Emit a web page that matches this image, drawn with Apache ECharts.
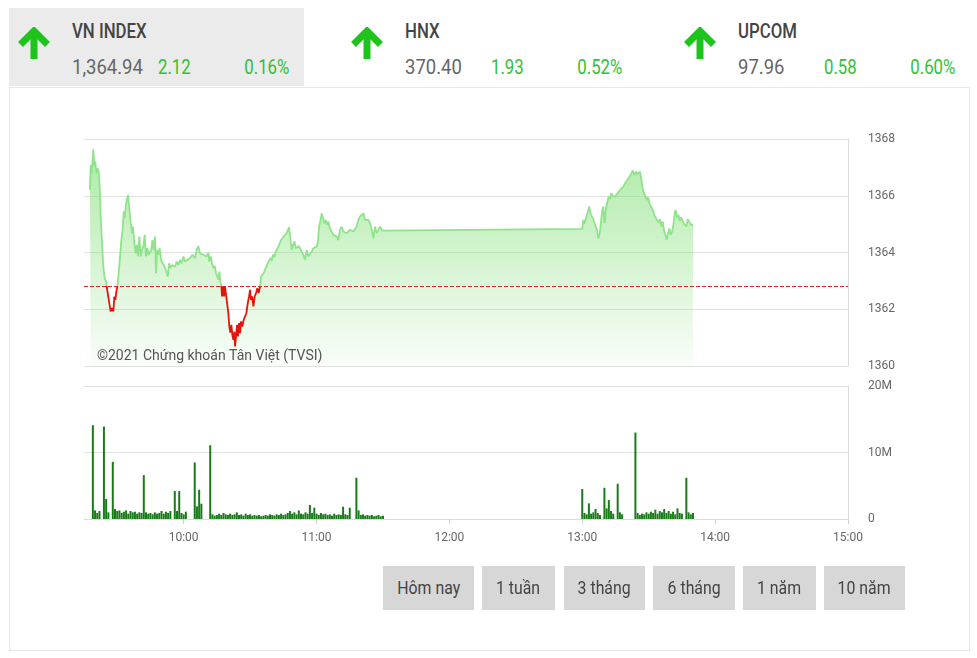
<!DOCTYPE html>
<html>
<head>
<meta charset="utf-8">
<script src="https://cdn.jsdelivr.net/npm/echarts@6/dist/echarts.min.js"></script>
<style>
html,body{margin:0;padding:0;background:#fff;width:977px;height:658px;overflow:hidden;font-family:Roboto,"Noto Sans",sans-serif;}
.abs{position:absolute;}
.cond{display:inline-block;white-space:nowrap;transform:scaleX(0.8);transform-origin:left top;}
.condR{display:inline-block;white-space:nowrap;transform:scaleX(0.8);transform-origin:right top;}
.btn{position:absolute;background:#d7d7d7;color:#444;font-size:18px;text-align:center;line-height:44px;height:44px;top:566px;}
</style>
</head>
<body>
<div class="abs" style="left:9px;top:8px;width:295px;height:78px;background:#ebebeb;"></div>
<div class="abs" style="left:9px;top:87px;width:961px;height:564px;border:1px solid #e6e6e6;box-sizing:border-box;"></div>
<div id="header"></div>
<div id="chart" class="abs" style="left:0;top:0;width:977px;height:658px;"></div>
<div id="buttons"></div>
<script>
// ---------- data ----------
const indexNames = ["VN INDEX", "HNX", "UPCOM"];
const indexValues = ["1,364.94", "370.40", "97.96"];
const indexChanges = ["2.12", "1.93", "0.58"];
const indexPercents = ["0.16%", "0.52%", "0.60%"];
const rangeButtons = ["Hôm nay", "1 tuần", "3 tháng", "6 tháng", "1 năm", "10 năm"];
const watermark = "©2021 Chứng khoán Tân Việt (TVSI)";
const refPrice = 1362.82;
const priceTicks = [1360, 1362, 1364, 1366, 1368];
const volumeTicks = [0, 10, 20];
const volumeTickLabels = ["0", "10M", "20M"];
const timeTickLabels = ["10:00", "11:00", "12:00", "13:00", "14:00", "15:00"];
const sessionStart = "09:15";
const sessionEnd = "15:00";

const priceData = [
["09:17:43",1366.20],["09:18:01",1367.08],["09:18:28",1366.79],["09:18:55",1367.32],["09:19:13",1367.64],["09:19:40",1367.03],["09:20:07",1367.20],["09:20:34",1366.79],["09:21:01",1366.97],["09:21:38",1366.85],["09:22:05",1366.32],["09:22:32",1365.27],["09:23:08",1364.33],["09:23:44",1363.50],["09:24:20",1363.09],["09:24:56",1362.98],["09:25:23",1362.74],["09:25:50",1362.51],["09:26:27",1362.21],["09:27:03",1361.92],["09:27:39",1362.04],["09:28:15",1361.92],["09:28:42",1362.45],["09:29:10",1362.33],["09:29:37",1362.63],["09:30:04",1362.80],["09:30:40",1363.27],["09:31:16",1363.86],["09:31:52",1364.44],["09:32:28",1364.80],["09:32:55",1365.44],["09:33:22",1365.21],["09:33:50",1365.62],["09:34:17",1365.85],["09:34:53",1366.03],["09:35:20",1366.09],["09:35:47",1365.27],["09:36:14",1364.97],["09:36:41",1364.68],["09:37:08",1364.91],["09:37:44",1364.33],["09:38:20",1363.97],["09:38:48",1364.27],["09:39:24",1363.86],["09:40:00",1364.56],["09:40:36",1363.86],["09:41:12",1364.09],["09:41:49",1364.21],["09:42:25",1364.62],["09:43:01",1363.86],["09:43:37",1364.15],["09:44:13",1363.92],["09:44:49",1363.86],["09:45:25",1364.09],["09:45:52",1364.44],["09:46:29",1364.09],["09:47:05",1364.56],["09:47:32",1363.27],["09:47:59",1364.09],["09:48:35",1363.92],["09:49:11",1364.15],["09:49:47",1363.74],["09:50:23",1363.80],["09:50:59",1363.56],["09:51:36",1363.45],["09:52:12",1363.33],["09:52:48",1363.15],["09:53:24",1363.62],["09:54:01",1363.45],["09:54:37",1363.56],["09:55:22",1363.62],["09:56:07",1363.50],["09:56:52",1363.68],["09:57:37",1363.56],["09:58:22",1363.74],["09:59:08",1363.62],["09:59:53",1363.86],["10:00:38",1363.68],["10:01:41",1363.74],["10:02:53",1363.80],["10:03:57",1363.92],
["10:04:23",1363.97],["10:05:08",1363.80],["10:05:53",1364.09],["10:06:38",1364.23],["10:07:23",1363.97],["10:08:08",1363.92],["10:08:53",1363.92],["10:09:39",1363.86],["10:10:24",1363.86],["10:11:09",1364.00],["10:11:36",1363.68],["10:12:13",1363.86],["10:12:49",1363.62],["10:13:25",1363.45],["10:14:01",1363.53],["10:14:37",1363.27],["10:15:13",1363.15],["10:15:40",1363.04],["10:16:07",1363.33],["10:16:34",1362.98],["10:17:02",1362.80],["10:17:20",1362.45],["10:17:47",1362.80],["10:18:14",1362.45],["10:18:41",1362.80],["10:19:26",1362.80],["10:20:11",1361.86],["10:20:38",1361.39],["10:21:05",1361.18],["10:21:32",1361.45],["10:22:00",1361.10],["10:22:27",1360.92],["10:22:54",1361.21],["10:23:12",1360.69],["10:23:39",1361.04],["10:24:07",1361.45],["10:24:34",1361.04],["10:25:01",1361.51],["10:25:28",1361.16],["10:25:55",1361.57],["10:26:31",1361.39],["10:27:07",1361.63],["10:27:43",1361.57],["10:28:19",1361.86],["10:28:56",1362.21],["10:29:32",1362.45],["10:29:59",1362.68],["10:30:26",1362.33],["10:30:53",1362.45],["10:31:29",1362.10],["10:32:05",1362.45],["10:32:41",1362.57],["10:33:17",1362.74],["10:33:53",1362.57],["10:34:30",1362.80],["10:34:57",1363.15],["10:35:33",1363.21],["10:36:09",1363.27],["10:36:46",1363.33],["10:37:22",1363.50],["10:37:58",1363.62],["10:38:34",1363.56],["10:39:10",1363.80],["10:39:46",1363.72],["10:40:22",1363.92],["10:40:58",1363.83],["10:41:35",1364.03],["10:42:11",1363.97],["10:42:47",1364.21],["10:43:23",1364.19],["10:43:59",1364.44],["10:44:35",1364.39],["10:45:11",1364.56],["10:45:47",1364.54],["10:46:23",1364.68],["10:47:00",1364.77],["10:47:36",1364.89],["10:48:12",1364.89],["10:48:48",1364.09],["10:49:25",1364.27],["10:50:01",1364.39],["10:50:37",1364.15],["10:51:13",1364.09],["10:51:58",1364.23],
["10:52:32",1364.15],["10:53:17",1364.03],["10:54:02",1363.92],["10:54:48",1363.74],["10:55:33",1364.09],["10:56:18",1363.86],["10:57:04",1363.92],["10:57:49",1364.03],["10:58:34",1364.15],["10:59:19",1364.09],["11:00:04",1364.21],["11:00:40",1364.39],["11:01:07",1364.91],["11:01:43",1365.09],["11:02:20",1365.38],["11:02:56",1365.44],["11:03:32",1365.03],["11:04:08",1365.15],["11:04:44",1364.97],["11:05:20",1365.09],["11:06:05",1364.85],["11:06:51",1364.80],["11:07:36",1364.62],["11:08:21",1364.68],["11:09:07",1364.56],["11:09:52",1364.44],["11:10:37",1364.80],["11:11:22",1364.91],["11:12:07",1364.74],["11:12:52",1364.80],["11:13:37",1364.68],["11:14:23",1364.74],["11:15:08",1364.80],["11:15:53",1364.85],["11:16:38",1364.74],["11:17:23",1364.80],["11:18:08",1364.91],["11:18:53",1365.15],["11:19:39",1365.27],["11:20:24",1365.21],["11:21:09",1365.38],["11:21:55",1365.15],["11:22:40",1365.09],["11:23:25",1365.15],["11:24:10",1365.03],["11:24:55",1364.80],["11:25:40",1364.50],["11:26:25",1364.91],["11:27:11",1364.68],["11:27:56",1364.80],["11:28:41",1364.91],["11:29:08",1364.85],["11:29:44",1364.77],
["13:00:02",1364.83],["13:00:29",1365.15],["13:00:56",1365.01],["13:01:32",1365.17],["13:02:08",1365.24],["13:02:44",1365.50],["13:03:12",1365.62],["13:03:39",1365.38],["13:04:15",1365.44],["13:04:51",1365.21],["13:05:28",1365.15],["13:06:04",1364.91],["13:06:40",1364.80],["13:07:16",1364.50],["13:07:52",1364.66],["13:08:28",1365.09],["13:09:04",1365.50],["13:09:31",1365.62],["13:10:07",1365.03],["13:10:44",1365.56],["13:11:20",1365.79],["13:11:56",1365.97],["13:12:32",1365.88],["13:13:08",1366.09],["13:13:44",1365.99],["13:14:20",1366.03],["13:14:56",1365.97],["13:15:33",1365.95],["13:16:09",1366.11],["13:16:45",1366.18],["13:17:21",1366.23],["13:17:58",1366.26],["13:18:34",1366.32],["13:19:10",1366.42],["13:19:46",1366.46],["13:20:22",1366.56],["13:20:58",1366.62],["13:21:34",1366.70],["13:22:10",1366.79],["13:22:46",1366.89],["13:23:14",1366.91],["13:23:41",1366.73],["13:24:17",1366.85],["13:24:53",1366.77],["13:25:29",1366.81],["13:26:05",1366.85],["13:26:41",1366.58],["13:27:17",1366.26],["13:27:53",1366.09],["13:28:30",1366.15],["13:29:06",1365.85],["13:29:42",1365.95],["13:30:18",1365.74],["13:30:55",1365.64],["13:31:31",1365.56],["13:32:07",1365.44],["13:32:43",1365.29],["13:33:19",1365.21],["13:33:55",1365.15],["13:34:31",1365.05],["13:35:07",1365.17],["13:35:44",1364.91],["13:36:20",1365.09],["13:36:56",1364.77],["13:37:32",1364.62],["13:38:08",1364.44],["13:38:44",1364.66],["13:39:20",1364.85],["13:39:56",1364.62],["13:40:33",1364.74],["13:41:09",1364.97],["13:41:45",1365.38],["13:42:12",1365.50],["13:42:48",1365.24],["13:43:25",1365.32],["13:44:01",1365.12],["13:44:37",1365.24],["13:45:13",1365.17],["13:45:49",1365.03],["13:46:25",1364.97],["13:47:01",1364.91],["13:47:37",1365.17],["13:48:14",1365.12],["13:48:50",1365.01],["13:49:26",1364.97],["13:50:02",1364.94]
];

const volumeData = [
["09:19",14.1],["09:20",1.3],["09:21",0.9],["09:22",1.2],["09:24",13.9],["09:25",3.0],["09:26",1.0],["09:28",8.6],["09:29",1.5],["09:30",1.2],["09:31",1.3],["09:32",0.9],["09:33",1.1],["09:34",1.3],["09:35",0.8],["09:36",1.2],["09:37",1.0],["09:38",1.1],["09:39",0.8],["09:40",1.0],["09:41",0.9],["09:42",6.6],["09:43",1.0],["09:44",0.8],["09:45",0.9],["09:46",0.7],["09:47",1.0],["09:48",0.8],["09:49",0.9],["09:50",1.2],["09:51",0.8],["09:52",1.1],["09:53",0.9],["09:54",1.2],["09:56",4.2],["09:57",1.2],["09:58",4.2],["09:59",0.9],["10:00",0.7],["10:01",1.1],["10:05",8.5],["10:06",1.9],["10:07",4.4],["10:08",2.3],["10:12",11.1],["10:13",0.7],["10:14",0.5],["10:15",0.6],["10:16",0.8],["10:17",0.6],["10:18",0.9],["10:19",0.7],["10:20",0.6],["10:21",0.8],["10:22",0.6],["10:23",0.7],["10:24",1.0],["10:25",0.6],["10:26",0.7],["10:27",0.5],["10:28",0.8],["10:29",0.6],["10:30",0.7],["10:31",0.5],["10:32",0.6],["10:33",0.5],["10:34",0.6],["10:35",0.4],["10:36",0.5],["10:37",0.6],["10:38",0.5],["10:39",0.7],["10:40",0.6],["10:41",0.5],["10:42",0.7],["10:43",0.6],["10:44",0.8],["10:45",0.6],["10:46",0.7],["10:47",0.9],["10:48",1.2],["10:49",0.8],["10:50",1.0],["10:51",0.7],["10:52",1.3],["10:53",0.8],["10:54",0.7],["10:55",1.0],["10:56",0.8],["10:57",2.1],["10:58",0.9],["10:59",1.7],["11:00",0.8],["11:01",0.6],["11:02",0.9],["11:03",0.7],["11:04",0.8],["11:05",0.6],["11:06",0.7],["11:07",0.5],["11:08",0.8],["11:09",0.6],["11:10",0.7],["11:11",0.6],["11:12",1.85],["11:13",0.7],["11:14",0.6],["11:15",1.7],["11:18",6.2],["11:19",1.3],["11:20",0.6],["11:21",0.7],["11:22",0.5],["11:23",0.6],["11:24",0.5],["11:25",0.6],["11:26",0.4],["11:27",0.5],["11:28",0.6],["11:29",0.4],["11:30",0.5],
["13:00",4.5],["13:01",0.9],["13:02",0.7],["13:03",2.35],["13:04",0.8],["13:05",1.0],["13:06",1.5],["13:07",0.9],["13:08",0.6],["13:10",4.7],["13:11",1.6],["13:12",2.85],["13:13",1.2],["13:14",0.8],["13:16",5.3],["13:17",1.0],["13:18",0.7],["13:24",13.0],["13:25",0.9],["13:26",0.6],["13:27",0.8],["13:28",0.7],["13:29",1.0],["13:30",0.8],["13:31",1.1],["13:32",0.9],["13:33",1.4],["13:34",0.8],["13:35",1.2],["13:36",1.0],["13:37",1.5],["13:38",0.9],["13:39",1.2],["13:40",0.8],["13:41",1.1],["13:42",0.7],["13:43",1.6],["13:44",0.9],["13:45",0.8],["13:47",6.2],["13:48",1.0],["13:49",0.7],["13:50",0.9]
];

// ---------- helpers ----------
function toMin(s){ const p = s.split(':').map(Number); return p[0]*60 + p[1] + (p[2]||0)/60; }
function fmtTime(v){ const h = Math.floor(v/60 + 1e-6), m = Math.round(v - h*60); return String(h).padStart(2,'0') + ':' + String(m).padStart(2,'0'); }

// ---------- header (HTML) ----------
const headerBases = [9, 342, 675];
const hdr = document.getElementById('header');
indexNames.forEach((name, i) => {
  const b = headerBases[i];
  hdr.insertAdjacentHTML('beforeend',
    `<svg class="abs" style="left:${b+8}px;top:27px" width="34" height="32" viewBox="0 0 34 32">
       <path d="M3.5 17.5 L17 4 L30.5 17.5" fill="none" stroke="#1ec31e" stroke-width="7"/>
       <path d="M17 6 L17 32" stroke="#1ec31e" stroke-width="7"/>
     </svg>
     <div class="abs" style="left:${b+63}px;top:21px;font-size:21px;line-height:21px;font-weight:500;color:#444"><span class="cond">${name}</span></div>
     <div class="abs" style="left:${b+63}px;top:57px;font-size:21px;line-height:21px;color:#666"><span class="cond" style="transform:scaleX(0.88)">${indexValues[i]}</span></div>
     <div class="abs" style="left:${b+149}px;top:57px;font-size:21px;line-height:21px;color:#33c033"><span class="cond">${indexChanges[i]}</span></div>
     <div class="abs" style="left:${b+180}px;width:100px;text-align:right;top:57px;font-size:21px;line-height:21px;color:#33c033"><span class="condR">${indexPercents[i]}</span></div>`);
});

// ---------- buttons (HTML) ----------
const btnLefts = [383, 482, 564, 653, 743, 824];
const btnWidths = [91, 73, 81, 82, 73, 81];
const btns = document.getElementById('buttons');
rangeButtons.forEach((t, i) => {
  btns.insertAdjacentHTML('beforeend',
    `<div class="btn" style="left:${btnLefts[i]}px;width:${btnWidths[i]}px;"><span style="display:inline-block;transform:scaleX(0.88)">${t}</span></div>`);
});

// ---------- chart ----------
const chart = echarts.init(document.getElementById('chart'));
const xMin = toMin(sessionStart), xMax = toMin(sessionEnd);
const hourMarks = timeTickLabels.map(toMin);
const pMin = priceTicks[0], pMax = priceTicks[priceTicks.length-1];

chart.setOption({
  animation: false,
  textStyle: { fontFamily: 'Roboto' },
  grid: [
    { left: 84, top: 139, width: 764, height: 227 },
    { left: 84, top: 386, width: 764, height: 133 }
  ],
  xAxis: [
    { type: 'value', gridIndex: 0, min: xMin, max: xMax, show: false },
    { type: 'value', gridIndex: 1, min: xMin, max: xMax,
      axisLine: { show: true, lineStyle: { color: '#dcdcdc' } },
      axisTick: { show: true, customValues: hourMarks, length: 5, lineStyle: { color: '#cfcfcf' } },
      axisLabel: { customValues: hourMarks, formatter: fmtTime, color: '#666', fontSize: 12, margin: 13 },
      splitLine: { show: false } }
  ],
  yAxis: [
    { type: 'value', gridIndex: 0, position: 'right', min: pMin, max: pMax, interval: priceTicks[1]-priceTicks[0],
      axisLine: { show: true, lineStyle: { color: '#dcdcdc' } }, axisTick: { show: false },
      axisLabel: { color: '#666', fontSize: 12, margin: 20, padding: [4, 0, 0, 0], formatter: v => String(v) },
      splitLine: { lineStyle: { color: '#e2e2e2' } } },
    { type: 'value', gridIndex: 1, position: 'right', min: volumeTicks[0], max: volumeTicks[volumeTicks.length-1], interval: volumeTicks[1]-volumeTicks[0],
      axisLine: { show: true, lineStyle: { color: '#dcdcdc' } }, axisTick: { show: false },
      axisLabel: { color: '#666', fontSize: 12, margin: 20, padding: [4, 0, 0, 0], formatter: v => volumeTickLabels[volumeTicks.indexOf(v)] },
      splitLine: { lineStyle: { color: '#e2e2e2' } } }
  ],
  visualMap: {
    show: false, type: 'piecewise', seriesIndex: 0, dimension: 1,
    pieces: [ { gte: pMin - 100, lt: refPrice, color: '#e3140c' }, { gte: refPrice, lte: pMax + 100, color: '#8fe38a' } ]
  },
  graphic: [
    { type: 'text', left: 97, top: 349, z: 100, style: { text: watermark, fill: '#555', font: '14px Roboto' } }
  ],
  series: [
    { type: 'line', xAxisIndex: 0, yAxisIndex: 0, symbol: 'none', showSymbol: false,
      data: priceData.map(d => [toMin(d[0]), d[1]]),
      lineStyle: { width: 1.8 },
      areaStyle: { origin: 'start', color: new echarts.graphic.LinearGradient(0, 0, 0, 1, [
        { offset: 0, color: 'rgba(120,220,108,0.85)' },
        { offset: 1, color: 'rgba(120,220,108,0.06)' } ]) },
      markLine: { silent: true, symbol: 'none', label: { show: false },
        lineStyle: { color: '#d42a2a', type: [4, 2], width: 1 },
        data: [ { yAxis: refPrice } ] }
    },
    { type: 'bar', xAxisIndex: 1, yAxisIndex: 1, barWidth: 2,
      data: volumeData.map(d => [toMin(d[0]), d[1]]),
      itemStyle: { color: '#187c18' } }
  ]
});
</script>
</body>
</html>
